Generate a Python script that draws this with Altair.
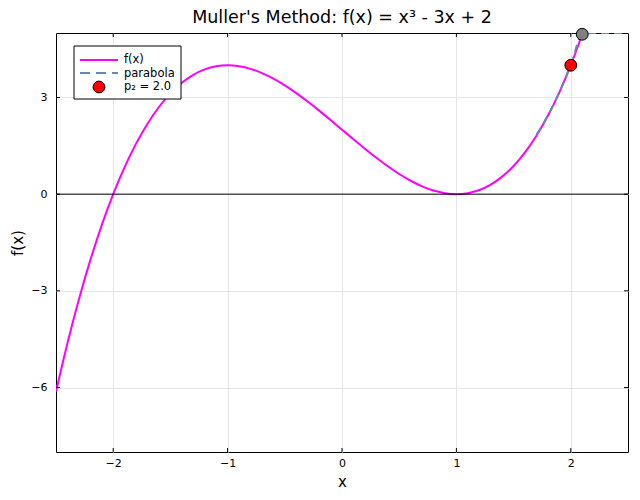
import altair as alt
import pandas as pd

# f(x) = x^3 - 3x + 2 sampled values
fx_x = [-2.5, -2.4, -2.3, -2.2, -2.1, -2.0, -1.9, -1.8, -1.7, -1.6, -1.5, -1.4, -1.3, -1.2, -1.1, -1.0,
        -0.9, -0.8, -0.7, -0.6, -0.5, -0.4, -0.3, -0.2, -0.1, 0.0, 0.1, 0.2, 0.3, 0.4, 0.5, 0.6, 0.7,
        0.8, 0.9, 1.0, 1.1, 1.2, 1.3, 1.4, 1.5, 1.6, 1.7, 1.8, 1.9, 2.0, 2.1]
fx_y = [-6.125, -4.624, -3.267, -2.048, -0.961, 0.0, 0.841, 1.568, 2.187, 2.704, 3.125, 3.456, 3.703,
        3.872, 3.969, 4.0, 3.971, 3.888, 3.757, 3.584, 3.375, 3.136, 2.873, 2.592, 2.299, 2.0, 1.701,
        1.408, 1.127, 0.864, 0.625, 0.416, 0.243, 0.112, 0.029, 0.0, 0.031, 0.128, 0.297, 0.544, 0.875,
        1.296, 1.813, 2.432, 3.159, 4.0, 4.961]

# parabola (dashed)
par_x = [1.7, 1.8, 1.9, 2.0, 2.1, 2.2, 2.3, 2.4, 2.45]
par_y = [1.84, 2.44, 3.16, 4.0, 4.96, 6.04, 7.24, 8.56, 9.25]

# points
p2_x = [2.0]
p2_y = [4.0]
gray_x = [2.1]
gray_y = [4.961]

series_names = ["f(x)", "parabola", "p\u2082 = 2.0"]
series_colors = ["#ff00ff", "#6489b5", "#ff0000"]

x_ticks = [-2, -1, 0, 1, 2]
y_ticks = [-6, -3, 0, 3]

W, H = 572, 419
FONT = "DejaVu Sans"

curve_df = pd.DataFrame({"x": fx_x, "y": fx_y})
par_df = pd.DataFrame({"x": par_x, "y": par_y})
p2_df = pd.DataFrame({"x": p2_x, "y": p2_y})
gray_df = pd.DataFrame({"x": gray_x, "y": gray_y})
zero_df = pd.DataFrame({"x": [0.0], "y": [0.0]})
xt_df = pd.DataFrame({"x": x_ticks})
yt_df = pd.DataFrame({"y": y_ticks})

xscale = alt.Scale(domain=[-2.5, 2.5], nice=False, zero=False)
yscale = alt.Scale(domain=[-8, 5], nice=False, zero=False, clamp=True)

xaxis = alt.Axis(values=x_ticks, title="x", grid=True, ticks=False, labelPadding=5,
                 titlePadding=6, labelFontSize=11, titleFontSize=15)
yaxis = alt.Axis(values=y_ticks, title="f(x)", grid=True, ticks=False, labelPadding=9,
                 titlePadding=5, labelFontSize=11, titleFontSize=15)


def X(field="x"):
    return alt.X(f"{field}:Q", scale=xscale, axis=xaxis)


def Y(field="y"):
    return alt.Y(f"{field}:Q", scale=yscale, axis=yaxis)


curve = alt.Chart(curve_df).mark_line(strokeWidth=2, color=series_colors[0],
                                      interpolate="monotone", clip=True).encode(x=X(), y=Y())

zero = alt.Chart(zero_df).mark_rule(color="black", strokeWidth=1).encode(y=Y())

par = alt.Chart(par_df).mark_line(strokeWidth=2, strokeDash=[8, 5], color=series_colors[1],
                                  interpolate="monotone", clip=True).encode(x=X(), y=Y())

p2 = alt.Chart(p2_df).mark_point(filled=True, size=140, fill=series_colors[2], stroke="black",
                                 strokeWidth=1, opacity=1).encode(x=X(), y=Y())

gray = alt.Chart(gray_df).mark_point(filled=True, size=140, fill="#808080", stroke="black",
                                     strokeWidth=1, opacity=1).encode(x=X(), y=Y())

# inward ticks on all four sides
tb = alt.Chart(xt_df).mark_rule(color="black", strokeWidth=1).encode(
    x=X(), y=alt.value(H), y2=alt.value(H - 4))
tt = alt.Chart(xt_df).mark_rule(color="black", strokeWidth=1).encode(
    x=X(), y=alt.value(0), y2=alt.value(4))
tl = alt.Chart(yt_df).mark_rule(color="black", strokeWidth=1).encode(
    y=Y(), x=alt.value(0), x2=alt.value(4))
tr = alt.Chart(yt_df).mark_rule(color="black", strokeWidth=1).encode(
    y=Y(), x=alt.value(W), x2=alt.value(W - 4))

# legend
box = alt.Chart(zero_df).mark_rect(fill="white", stroke="black", strokeWidth=1).encode(
    x=alt.value(18), x2=alt.value(125), y=alt.value(13), y2=alt.value(66))
leg_f = alt.Chart(zero_df).mark_rule(color=series_colors[0], strokeWidth=2).encode(
    x=alt.value(24), x2=alt.value(62), y=alt.value(27))
leg_p = alt.Chart(zero_df).mark_rule(color=series_colors[1], strokeWidth=2, strokeDash=[10, 6]).encode(
    x=alt.value(24), x2=alt.value(62), y=alt.value(40))
leg_c = alt.Chart(zero_df).mark_point(filled=True, size=140, fill=series_colors[2], stroke="black",
                                      strokeWidth=1, opacity=1).encode(
    x=alt.value(43), y=alt.value(54))

leg_rows_y = [27, 40.5, 54]
leg_texts = []
for name, yy in zip(series_names, leg_rows_y):
    leg_texts.append(
        alt.Chart(pd.DataFrame({"label": [name]})).mark_text(
            align="left", baseline="middle", fontSize=11.5, font=FONT, color="black"
        ).encode(x=alt.value(68), y=alt.value(yy), text="label:N")
    )

chart = alt.layer(curve, zero, par, p2, gray, tb, tt, tl, tr,
                  box, leg_f, leg_p, leg_c, *leg_texts).properties(
    width=W, height=H,
    autosize=alt.AutoSizeParams(type="none"),
    padding={"left": 48, "top": 25, "right": 4, "bottom": 40},
    title=alt.TitleParams("Muller's Method: f(x) = x\u00b3 - 3x + 2", fontSize=17.5, font=FONT,
                          fontWeight="normal", anchor="middle", offset=0),
).configure_view(stroke="black", strokeWidth=1).configure_axis(
    labelFont=FONT, titleFont=FONT, labelColor="black", titleColor="black",
    domain=False, gridColor="#e6e6e6", gridOpacity=1, titleFontWeight="normal",
)

chart.save("out.html", embed_options={"renderer": "svg", "actions": False})
